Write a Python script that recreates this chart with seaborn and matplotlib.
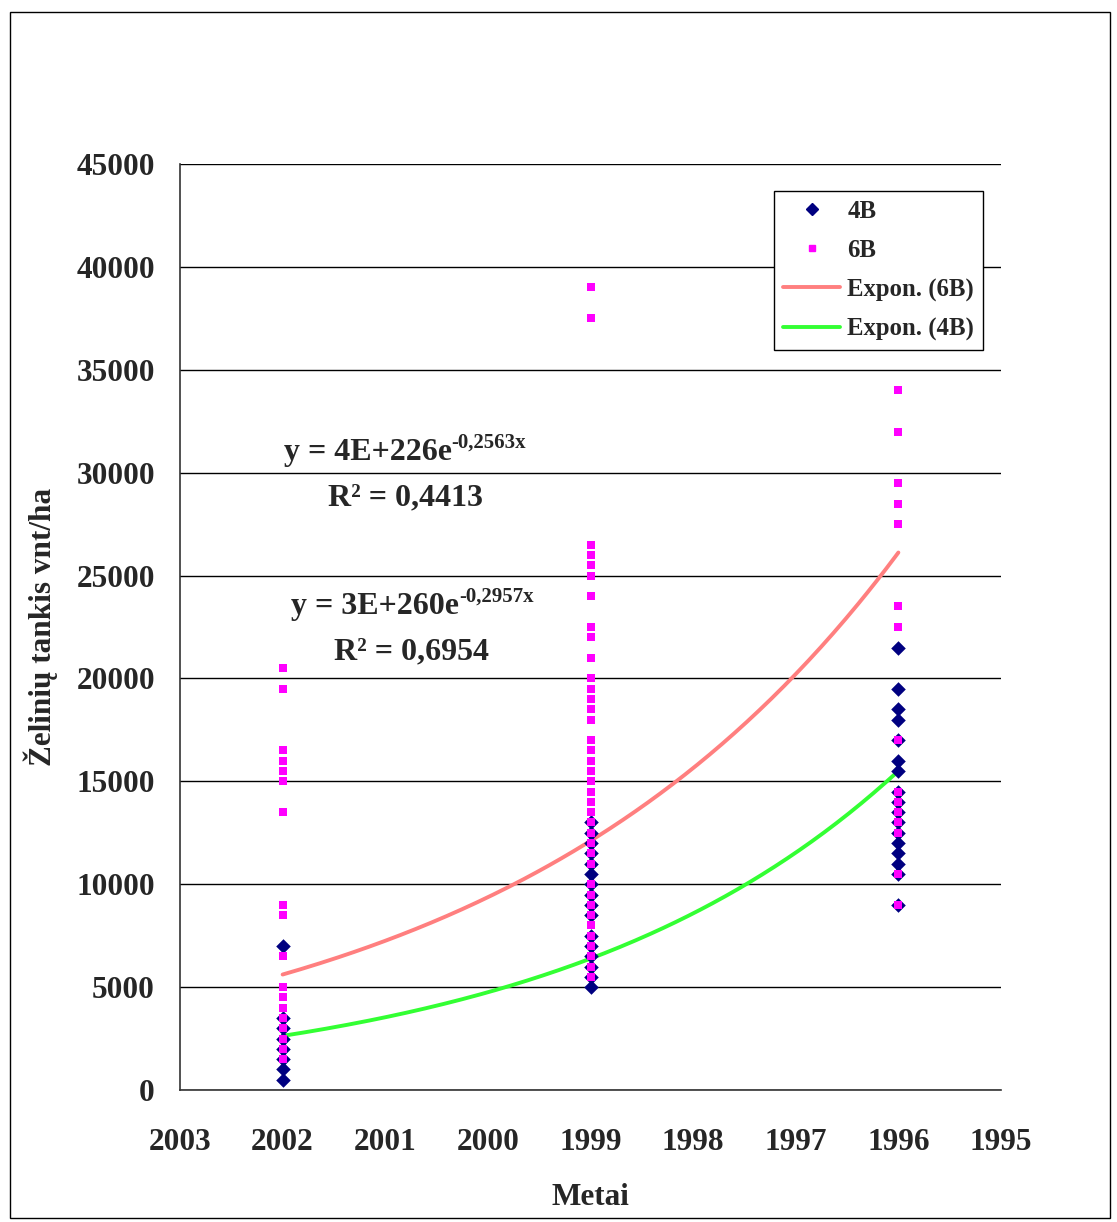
import numpy as np
import pandas as pd
import matplotlib
matplotlib.use("Agg")
import matplotlib.pyplot as plt
from matplotlib.lines import Line2D
from matplotlib.patches import Rectangle
import seaborn as sns

# ---------------- data ----------------
years_4b_2002 = [7000, 3500, 3000, 2500, 2000, 1500, 1000, 500]
years_4b_1999 = [13000, 12500, 12000, 11500, 11000, 10500, 10000, 9500, 9000,
                 8500, 7500, 7000, 6500, 6000, 5500, 5000]
years_4b_1996 = [21500, 19500, 18500, 18000, 17000, 16000, 15500, 14500, 14000,
                 13500, 13000, 12500, 12000, 11500, 11000, 10500, 9000]

years_6b_2002 = [20500, 19500, 16500, 16000, 15500, 15000, 13500, 9000, 8500,
                 6500, 5000, 4500, 4000, 3500, 3000, 2500, 2000, 1500]
years_6b_1999 = [39000, 37500, 26500, 26000, 25500, 25000, 24000, 22500, 22000,
                 21000, 20000, 19500, 19000, 18500, 18000, 17000, 16500, 16000,
                 15500, 15000, 14500, 14000, 13500, 13000, 12500, 12000, 11500,
                 11000, 10000, 9500, 9000, 8500, 8000, 7500, 7000, 6500, 6000, 5500]
years_6b_1996 = [34000, 32000, 29500, 28500, 27500, 23500, 22500, 17000, 14500,
                 14000, 13500, 13000, 12500, 10500, 9000]

# exponential trendlines as displayed on the chart: y = A * exp(b * x)
trend_6b_A = 3.9e226
trend_6b_b = -0.2563
trend_4b_A = 3.3e260
trend_4b_b = -0.2957
trend_x_range = [2002, 1996]

x_ticks = [2003, 2002, 2001, 2000, 1999, 1998, 1997, 1996, 1995]
y_ticks = [0, 5000, 10000, 15000, 20000, 25000, 30000, 35000, 40000, 45000]

eq_6b = "y = 4E+226e"
eq_6b_exp = "-0,2563x"
r2_6b = "R² = 0,4413"
eq_4b = "y = 3E+260e"
eq_4b_exp = "-0,2957x"
r2_4b = "R² = 0,6954"

x_label = "Metai"
y_label = "Želinių tankis vnt/ha"


def make_df(groups):
    rows = []
    for yr, vals in groups:
        for v in vals:
            rows.append((yr, v))
    return pd.DataFrame(rows, columns=["year", "value"])


df4 = make_df([(2002, years_4b_2002), (1999, years_4b_1999), (1996, years_4b_1996)])
df6 = make_df([(2002, years_6b_2002), (1999, years_6b_1999), (1996, years_6b_1996)])


def trend(A, b):
    xs = np.linspace(trend_x_range[0], trend_x_range[1], 200)
    return pd.DataFrame({"year": xs, "value": np.exp(np.log(A) + b * xs)})


trend4 = trend(trend_4b_A, trend_4b_b)
trend6 = trend(trend_6b_A, trend_6b_b)

# ---------------- style ----------------
sns.set_theme(style="white")
plt.rcParams["font.family"] = ["Liberation Serif", "DejaVu Serif"]
plt.rcParams["font.weight"] = "bold"

W, H = 1117, 1222
fig = plt.figure(figsize=(W / 100, H / 100), dpi=100)
fig.patch.set_facecolor("white")
ax = fig.add_axes([180 / W, 1 - 1090 / H, (1001 - 180) / W, (1090 - 164) / H])
ax.set_facecolor("white")

navy = "#000080"
magenta = "#FF00FF"
red = "#FF7F7F"
green = "#33FF33"

sns.lineplot(data=trend6, x="year", y="value", ax=ax, color=red, lw=2.8,
             sort=False, zorder=3)
sns.lineplot(data=trend4, x="year", y="value", ax=ax, color=green, lw=2.8,
             sort=False, zorder=3)
sns.scatterplot(data=df4, x="year", y="value", ax=ax, marker="D", s=55,
                color=navy, edgecolor=navy, linewidth=0, zorder=4)
sns.scatterplot(data=df6, x="year", y="value", ax=ax, marker="s", s=26,
                color=magenta, edgecolor=magenta, linewidth=0, zorder=5)

ax.set_xlim(2003, 1995)
ax.set_ylim(0, 45000)
ax.set_xticks(x_ticks)
ax.set_xticklabels([str(t) for t in x_ticks])
ax.set_yticks(y_ticks)
ax.set_yticklabels([str(t) for t in y_ticks])

ax.yaxis.grid(True, color="black", lw=1.0)
ax.set_axisbelow(True)
for s in ["top", "right"]:
    ax.spines[s].set_visible(False)
for s in ["left", "bottom"]:
    ax.spines[s].set_color("#333333")
    ax.spines[s].set_linewidth(1.2)

ax.tick_params(axis="both", direction="out", length=7, width=1.2, color="#333333",
               labelsize=22.5)
ax.tick_params(axis="x", pad=20)
ax.tick_params(axis="y", pad=11)
for lab in ax.get_xticklabels() + ax.get_yticklabels():
    lab.set_fontweight("bold")

ax.set_xlabel(x_label, fontsize=22.5, fontweight="bold", labelpad=19)
ax.set_ylabel(y_label, fontsize=22.5, fontweight="bold", labelpad=13)

# equations
t1 = ax.text(2001.99, 31000, eq_6b, fontsize=23, fontweight="bold",
             ha="left", va="center", zorder=6)
ax.annotate(eq_6b_exp, xy=(1.0, 0.82), xycoords=t1, ha="left", va="center",
            fontsize=15, fontweight="bold")
ax.text(2000.80, 28770, r2_6b, fontsize=23, fontweight="bold",
        ha="center", va="center", zorder=6)
t2 = ax.text(2001.92, 23520, eq_4b, fontsize=23, fontweight="bold",
             ha="left", va="center", zorder=6)
ax.annotate(eq_4b_exp, xy=(1.0, 0.82), xycoords=t2, ha="left", va="center",
            fontsize=15, fontweight="bold")
ax.text(2000.74, 21285, r2_4b, fontsize=23, fontweight="bold",
        ha="center", va="center", zorder=6)

# legend
handles = [
    Line2D([], [], ls="none", marker="D", markersize=6.5, color=navy),
    Line2D([], [], ls="none", marker="s", markersize=5, color=magenta),
    Line2D([], [], color=red, lw=2.8),
    Line2D([], [], color=green, lw=2.8),
]
labels = ["4B", "6B", "Expon. (6B)", "Expon. (4B)"]
leg = ax.legend(handles, labels, loc="upper right", bbox_to_anchor=(0.978, 0.971),
                prop={"family": "Liberation Serif", "weight": "bold", "size": 17.8},
                frameon=True, fancybox=False, shadow=False, framealpha=1,
                edgecolor="black", handlelength=2.3, handletextpad=0.3,
                labelspacing=0.66, borderpad=0.35, borderaxespad=0)
leg.get_frame().set_linewidth(1.0)
leg.set_zorder(10)

# outer border
fig.patches.append(Rectangle((10 / W, 1 - 1218 / H), 1100 / W, 1206 / H,
                             transform=fig.transFigure, fill=False,
                             edgecolor="black", lw=1.0))

fig.savefig("out.png", dpi=100)
